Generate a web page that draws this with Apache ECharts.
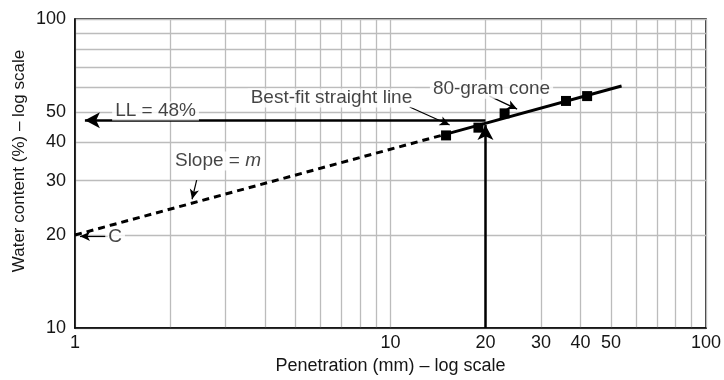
<!DOCTYPE html>
<html><head><meta charset="utf-8">
<script src="https://cdn.jsdelivr.net/npm/echarts@6/dist/echarts.min.js"></script>
<style>html,body{margin:0;padding:0;background:#fff}#c{width:724px;height:380px}</style>
</head><body><div id="c"></div>
<script>
// Data (axis units)
const penetration = [15, 19, 23, 36, 42];
const waterContent = [42, 44.5, 49.5, 54.3, 56.3];
const fitDashed = [[1, 20], [15, 42.4]];
const fitSolid = [[15, 42.4], [54, 60.7]];
const xGridValues = [1,2,3,4,5,6,7,8,9,10,20,30,40,50,60,70,80,90,100];
const yGridValues = [10,20,30,40,50,60,70,80,90,100];
const xTickLabels = [1,10,20,30,40,50,100];
const yTickLabels = [10,20,30,40,50,100];
const llArrow = [[20, 47], [1.075, 47]];
const coneArrow = [[20, 10], [20, 45.4]];
const leaderBestFit = [[11.5, 51.9], [15.4, 45.4]];
const leaderCone = [[20.6, 56.3], [25.2, 51.1]];
const leaderSlope = [[2.43, 30.1], [2.35, 26.1]];
const leaderC = [[1.27, 19.8], [1.037, 19.8]];
const annotationTexts = ['LL = 48%', 'Best-fit straight line', '80-gram cone', 'Slope = {i|m}', 'C'];
const annotationAt = [[1.80, 50.4], [6.5, 55.5], [20.9, 59.3], [2.84, 34.7], [1.34, 19.8]];

const FONT = '"Liberation Sans", Arial, sans-serif';
const TXT = '#151515';
const chart = echarts.init(document.getElementById('c'), null, {renderer: 'canvas'});

function ml(pair, w, size) {
  return {
    symbol: ['none', 'arrow'],
    symbolSize: size,
    silent: true,
    animation: false,
    label: {show: false},
    lineStyle: {color: '#000', width: w, type: 'solid'},
    data: [[{coord: pair[0]}, {coord: pair[1]}]]
  };
}

const option = {
  animation: false,
  backgroundColor: '#fff',
  grid: {left: 75, right: 17, top: 19, bottom: 52, show: true, borderColor: '#000', borderWidth: 1.5, backgroundColor: 'transparent'},
  xAxis: {
    type: 'log', logBase: 10, min: 1, max: 100,
    name: 'Penetration (mm) – log scale', nameLocation: 'middle', nameGap: 26,
    nameTextStyle: {fontFamily: FONT, fontSize: 18, color: TXT},
    axisLine: {show: true, lineStyle: {color: '#000', width: 1.5}},
    axisTick: {show: false, customValues: xGridValues},
    axisLabel: {customValues: xTickLabels, fontFamily: FONT, fontSize: 18, color: TXT, margin: 6},
    splitLine: {show: true, lineStyle: {color: '#bcbcbc', width: 1.3}},
    minorTick: {show: false}, minorSplitLine: {show: false}
  },
  yAxis: {
    type: 'log', logBase: 10, min: 10, max: 100,
    axisLine: {show: true, lineStyle: {color: '#000', width: 1.5}},
    axisTick: {show: false, customValues: yGridValues},
    axisLabel: {customValues: yTickLabels, fontFamily: FONT, fontSize: 18, color: TXT, margin: 9},
    splitLine: {show: true, lineStyle: {color: '#bcbcbc', width: 1.3}},
    minorTick: {show: false}, minorSplitLine: {show: false}
  },
  graphic: [{
    type: 'text', x: 19, y: 161, rotation: Math.PI / 2,
    style: {text: 'Water content (%) – log scale', font: '17px ' + FONT, fill: TXT, align: 'center', verticalAlign: 'middle'}
  }],
  series: [
    {type: 'line', data: fitDashed, symbol: 'none', z: 3, lineStyle: {color: '#000', width: 3, type: [7, 5]}},
    {type: 'line', data: fitSolid, symbol: 'none', z: 3, lineStyle: {color: '#000', width: 3}},
    {type: 'scatter', data: penetration.map((p, i) => [p, waterContent[i]]), symbol: 'rect', symbolSize: 10, z: 4, itemStyle: {color: '#000', opacity: 1}},
    {type: 'line', data: [], markLine: ml(llArrow, 2.5, [12, 15])},
    {type: 'line', data: [], markLine: ml(coneArrow, 2.5, [12, 15])},
    {type: 'line', data: [], markLine: ml(leaderBestFit, 1.2, [7, 10])},
    {type: 'line', data: [], markLine: ml(leaderCone, 1.2, [7, 10])},
    {type: 'line', data: [], markLine: ml(leaderSlope, 1.2, [7, 10])},
    {type: 'line', data: [], markLine: ml(leaderC, 1.2, [7, 10])},
    {type: 'scatter', symbolSize: 0, z: 5, silent: true,
      data: annotationAt.map((v, i) => ({value: v, name: annotationTexts[i]})),
      label: {show: true, position: 'inside', formatter: '{b}', fontFamily: FONT, fontSize: 19, color: TXT,
        backgroundColor: '#fff', padding: [0, 3, 0, 3],
        rich: {i: {fontStyle: 'italic', fontFamily: FONT, fontSize: 19, color: TXT}}}}
  ]
};
chart.setOption(option);
</script></body></html>
